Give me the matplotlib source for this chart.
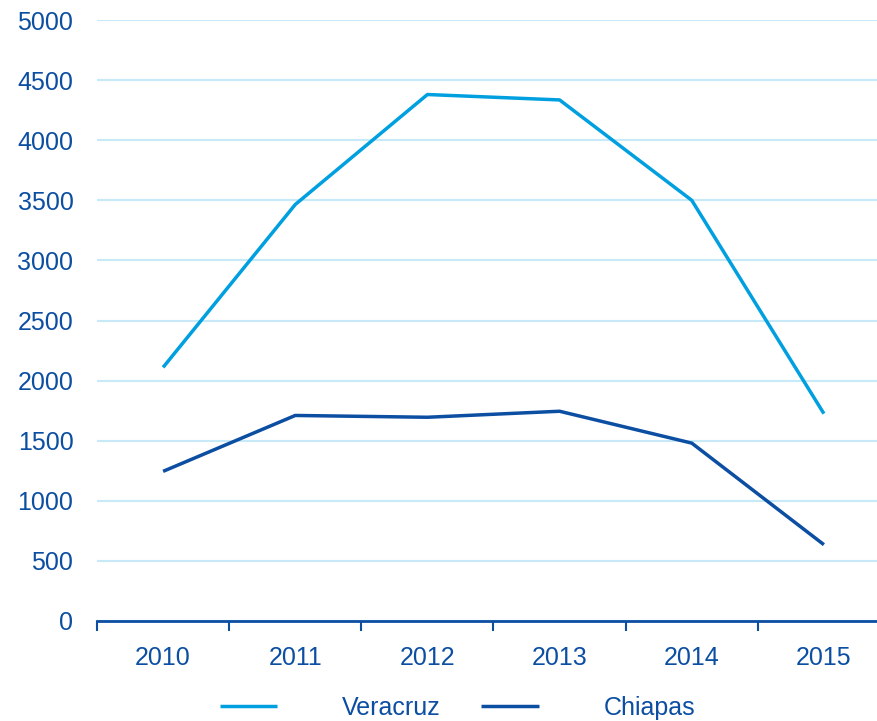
import matplotlib.pyplot as plt

# datos
years = ['2010', '2011', '2012', '2013', '2014', '2015']
veracruz = [2110, 3465, 4380, 4335, 3500, 1725]
chiapas = [1245, 1710, 1695, 1745, 1480, 635]

light = '#00A0E0'
dark = '#0B4EA2'
grid_col = '#C8E9F8'

plt.rcParams['font.family'] = ['Liberation Sans', 'DejaVu Sans']

fig = plt.figure(figsize=(8.78, 7.21), dpi=100)
ax = fig.add_axes([97/878, 1 - 621/721, (890 - 97)/878, (621 - 20)/721])

x = range(len(years))
ax.plot(x, veracruz, color=light, lw=2.5, label='Veracruz', solid_capstyle='butt')
ax.plot(x, chiapas, color=dark, lw=2.5, label='Chiapas', solid_capstyle='butt')

ax.set_ylim(0, 5000)
ax.set_xlim(-0.5, len(years) - 0.5)
ax.set_yticks(range(0, 5001, 500))
ax.yaxis.grid(True, color=grid_col, lw=1.5)
ax.set_axisbelow(True)

# ticks entre categorias, etiquetas al centro
ax.set_xticks([i - 0.5 for i in range(len(years) + 1)])
ax.set_xticklabels([])
ax.set_xticks(list(x), minor=True)
ax.set_xticklabels(years, minor=True)
ax.tick_params(axis='x', which='major', length=7, width=1.5, color=dark, direction='out')
ax.tick_params(axis='x', which='minor', length=0, pad=18)
ax.tick_params(axis='y', length=0, pad=17)
ax.tick_params(which='both', labelsize=18, labelcolor=dark)

for s in ['top', 'right', 'left']:
    ax.spines[s].set_visible(False)
ax.spines['bottom'].set_color(dark)
ax.spines['bottom'].set_linewidth(2)

fig.legend(loc='lower center', ncol=2, frameon=False, fontsize=18,
           handlelength=2.3, handletextpad=2.6, columnspacing=1.6,
           labelcolor=dark, bbox_to_anchor=(0.521, -0.03))

fig.savefig('out.png', dpi=100)
